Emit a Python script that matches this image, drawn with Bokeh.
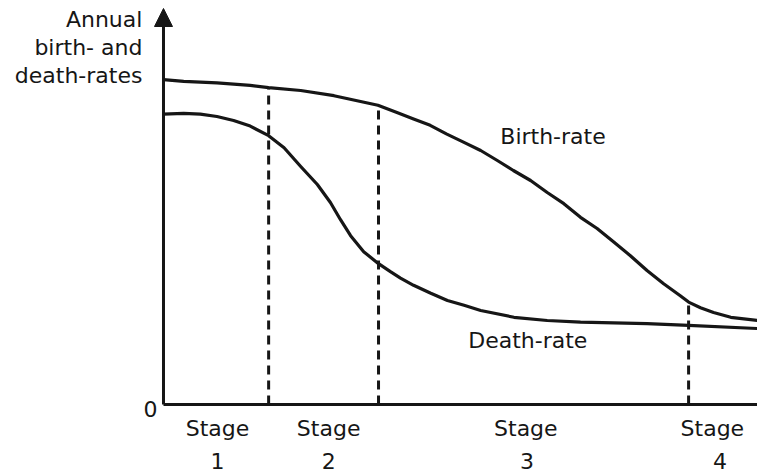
from bokeh.plotting import figure
from bokeh.models import Range1d, Arrow, NormalHead
from bokeh.core.properties import value
from bokeh.embed import file_html
from bokeh.resources import INLINE

# ---- data (time in arbitrary units 0-100, rates in arbitrary units) ----
birth_x = [0, 3.4, 9.0, 14.6, 17.7, 23.1, 28.7, 36.1, 39.3, 42.1, 44.9, 47.7, 50.5, 53.4, 56.2,
           58.9, 61.8, 64.6, 67.4, 70.2, 73.0, 75.8, 78.6, 81.4, 84.2, 87.0, 88.4, 90.4, 92.6, 95.5, 100]
birth_y = [40.6, 40.4, 40.2, 39.9, 39.6, 39.25, 38.6, 37.4, 36.5, 35.7, 34.9, 33.8, 32.8, 31.75, 30.5,
           29.25, 28.0, 26.5, 25.1, 23.4, 22.0, 20.3, 18.6, 16.75, 15.1, 13.6, 12.8, 12.1, 11.5, 10.9, 10.5]

death_x = [0, 3.4, 6.2, 9.0, 11.8, 14.6, 17.7, 20.3, 23.1, 25.9, 28.1, 29.8, 31.5, 33.7, 36.2,
           38.2, 39.9, 42.1, 45.0, 47.8, 50.6, 53.4, 59.0, 64.6, 70.2, 81.4, 88.4, 100]
death_y = [36.3, 36.4, 36.3, 36.0, 35.5, 34.8, 33.6, 32.1, 29.75, 27.5, 25.25, 23.1, 21.1, 19.1, 17.6,
           16.6, 15.8, 14.9, 13.9, 13.0, 12.4, 11.75, 10.9, 10.5, 10.3, 10.1, 9.9, 9.5]

stage_bounds = [17.7, 36.2, 88.4]
stage_bound_tops = [39.6, 37.4, 12.8]

stage_names = ["Stage", "Stage", "Stage", "Stage"]
stage_numbers = ["1", "2", "3", "4"]
stage_label_x = [9.1, 27.8, 61.0, 92.4]
stage_number_x = [9.1, 27.8, 61.2, 93.7]

y_title_lines = ["Annual", "birth- and", "death-rates"]

FONT = "DejaVu Sans"
INK = "#161616"
FS = "22px"

p = figure(width=757, height=476, output_backend="svg", toolbar_location=None,
           x_range=Range1d(-27.44, 100), y_range=Range1d(-9.0, 50.5),
           min_border=0)
p.xgrid.visible = False
p.ygrid.visible = False
p.xaxis.visible = False
p.yaxis.visible = False
p.outline_line_color = None
p.background_fill_color = "white"
p.border_fill_color = "white"

# x axis line
p.segment(x0=[0], y0=[0], x1=[100], y1=[0], line_width=3, line_color=INK)
# y axis with arrow
p.add_layout(Arrow(end=NormalHead(size=18, fill_color=INK, line_color=INK, line_width=1),
                   x_start=0, y_start=0, x_end=0, y_end=49.5,
                   line_width=3, line_color=INK))

# curves
p.line(birth_x, birth_y, line_width=3.2, line_color=INK, line_join="round")
p.line(death_x, death_y, line_width=3.2, line_color=INK, line_join="round")

# stage boundaries
p.segment(x0=stage_bounds, y0=[0] * len(stage_bounds), x1=stage_bounds, y1=stage_bound_tops,
          line_width=3, line_color=INK, line_dash="9 6")

def txt(xs, ys, ts, align="center", baseline="alphabetic"):
    p.text(x=xs, y=ys, text=ts, text_font=value(FONT), text_font_size=FS,
           text_color=INK, text_align=align, text_baseline=baseline)

txt(stage_label_x, [-3.0] * 4, stage_names)
txt(stage_number_x, [-7.0] * 4, stage_numbers)
txt([-2.2], [-0.5], ["0"], baseline="middle")
txt([-3.55] * 3, [48.1, 44.6, 41.1], y_title_lines, align="right")
txt([56.7], [33.5], ["Birth-rate"], align="left")
txt([51.3], [8.0], ["Death-rate"], align="left")

open("out.html", "w").write(file_html(p, INLINE))
